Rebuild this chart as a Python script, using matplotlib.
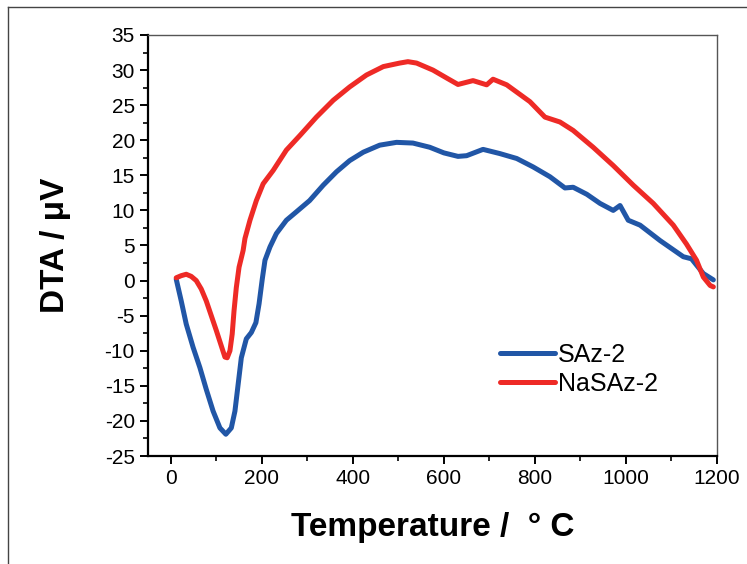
import matplotlib.pyplot as plt
from matplotlib.lines import Line2D
from matplotlib.ticker import MultipleLocator

plt.rcParams['font.family'] = 'Liberation Sans'
plt.rcParams['axes.unicode_minus'] = False

# SAz-2 DTA trace
temp_saz = [12, 23, 34, 49, 64, 78, 93, 108, 121, 133, 141, 148, 155, 166, 177,
            187, 194, 201, 207, 218, 232, 254, 276, 305, 335, 364, 393, 423, 459,
            496, 532, 569, 600, 631, 650, 686, 723, 760, 796, 833, 866, 884, 914,
            943, 972, 987, 1005, 1031, 1075, 1126, 1144, 1170, 1192]
dta_saz = [0.2, -2.9, -6.2, -9.5, -12.4, -15.5, -18.6, -21.0, -21.9, -21.0, -18.6,
           -14.8, -11.0, -8.3, -7.4, -6.0, -3.3, 0.2, 2.9, 4.8, 6.7, 8.6, 9.8, 11.4,
           13.6, 15.5, 17.1, 18.3, 19.3, 19.7, 19.6, 19.0, 18.2, 17.7, 17.8, 18.7,
           18.1, 17.4, 16.2, 14.8, 13.2, 13.3, 12.3, 11.0, 10.0, 10.7, 8.6, 7.9,
           5.7, 3.4, 3.1, 1.0, 0.1]

# NaSAz-2 DTA trace
temp_nasaz = [12, 23, 34, 45, 56, 67, 78, 89, 100, 111, 119, 124, 130, 135, 139,
              144, 150, 159, 163, 174, 188, 203, 225, 254, 284, 320, 357, 393, 430,
              467, 503, 521, 540, 576, 608, 631, 664, 694, 708, 738, 789, 822, 855,
              884, 928, 972, 1016, 1060, 1104, 1133, 1155, 1170, 1185, 1192]
dta_nasaz = [0.4, 0.7, 0.9, 0.6, 0.0, -1.2, -2.9, -5.0, -7.1, -9.3, -10.9, -11.0,
             -10.0, -7.6, -4.3, -1.0, 1.9, 4.3, 6.0, 8.6, 11.4, 13.8, 15.7, 18.6,
             20.7, 23.3, 25.7, 27.6, 29.3, 30.5, 31.0, 31.2, 31.0, 30.0, 28.8,
             27.95, 28.5, 27.9, 28.7, 27.9, 25.5, 23.3, 22.6, 21.4, 19.0, 16.4,
             13.6, 11.0, 7.9, 5.2, 2.9, 0.5, -0.7, -0.9]

fig = plt.figure(figsize=(7.47, 5.64), dpi=100)
ax = fig.add_axes([148 / 747, 1 - 456 / 564, (717 - 148) / 747, (456 - 35) / 564])

ax.plot(temp_saz, dta_saz, color='#2156a6', lw=3.6, label='SAz-2',
        solid_capstyle='round', solid_joinstyle='round')
ax.plot(temp_nasaz, dta_nasaz, color='#ee2a26', lw=3.6, label='NaSAz-2',
        solid_capstyle='round', solid_joinstyle='round')

ax.set_xlim(-50, 1200)
ax.set_ylim(-25, 35)
ax.xaxis.set_major_locator(MultipleLocator(200))
ax.xaxis.set_minor_locator(MultipleLocator(100))
ax.yaxis.set_major_locator(MultipleLocator(5))
ax.yaxis.set_minor_locator(MultipleLocator(2.5))
ax.tick_params(which='major', direction='out', length=6, width=1.4, labelsize=15,
               top=False, right=False)
ax.tick_params(which='minor', direction='out', length=3.5, width=1.2,
               top=False, right=False)

for side in ['left', 'bottom']:
    ax.spines[side].set_linewidth(1.6)
    ax.spines[side].set_color('black')
for side in ['top', 'right']:
    ax.spines[side].set_linewidth(1.0)
    ax.spines[side].set_color('#555555')

ax.set_xlabel('Temperature /  \u00b0 C', fontsize=24, fontweight='bold', labelpad=17)
ax.set_ylabel('DTA / \u03bcV', fontsize=24, fontweight='bold', labelpad=24)

ax.legend(loc='lower right', bbox_to_anchor=(0.935, 0.09), frameon=False, fontsize=18,
          handlelength=2.2, handletextpad=0.1, labelspacing=0.2)

# thin frame around the figure
fig.add_artist(Line2D([8 / 747, 1], [1 - 7 / 564, 1 - 7 / 564], color='#444444', lw=1.0))
fig.add_artist(Line2D([8 / 747, 8 / 747], [0, 1 - 7 / 564], color='#444444', lw=1.0))

fig.savefig('out.png', dpi=100)
